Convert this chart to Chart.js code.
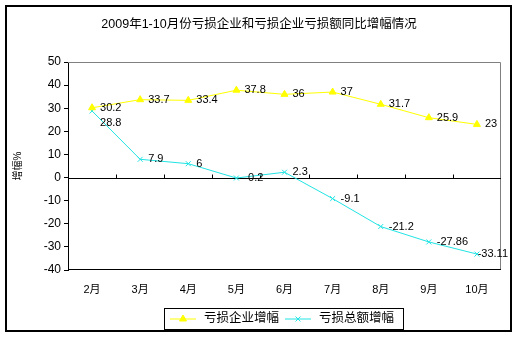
<!DOCTYPE html>
<html>
<head>
<meta charset="utf-8">
<script src="https://cdn.jsdelivr.net/npm/chart.js@4"></script>
<style>
  html, body { margin: 0; padding: 0; background: #fff; }
  canvas { display: block; }
</style>
</head>
<body>
<canvas id="chart" width="522" height="339"></canvas>
<script>
// 数据
const chartTitle = "2009年1-10月份亏损企业和亏损企业亏损额同比增幅情况";
const months = ["2月", "3月", "4月", "5月", "6月", "7月", "8月", "9月", "10月"];
const lossFirmGrowth = [30.2, 33.7, 33.4, 37.8, 36, 37, 31.7, 25.9, 23];
const lossAmountGrowth = [28.8, 7.9, 6, -0.2, 2.3, -9.1, -21.2, -27.86, -33.11];
const seriesNames = ["亏损企业增幅", "亏损总额增幅"];
const yMin = -40, yMax = 50, yStep = 10;
const yTitle = "增幅%";

const FONT = "'Liberation Sans', Arial, 'Noto Sans CJK SC', sans-serif";
const YELLOW = "#FFFF00";
const CYAN = "#22E4E4";

Chart.defaults.font.family = FONT;
Chart.defaults.color = "#000";

// 外框、标题、图例
const framePlugin = {
  id: "frame",
  beforeDraw(chart) {
    const ctx = chart.ctx;
    ctx.save();
    ctx.fillStyle = "#fff";
    ctx.fillRect(0, 0, chart.width, chart.height);
    ctx.strokeStyle = "#000";
    ctx.lineWidth = 2;
    ctx.strokeRect(6, 6, 505, 325);
    ctx.restore();
  },
  beforeDatasetsDraw(chart) {
    const { ctx, chartArea: a, scales } = chart;
    const x = scales.x, y = scales.y;
    ctx.save();
    // 绘图区边框
    ctx.lineWidth = 1;
    ctx.strokeStyle = "#808080";
    ctx.beginPath();
    ctx.moveTo(a.left, a.top + 0.5);
    ctx.lineTo(a.right - 0.5, a.top + 0.5);
    ctx.lineTo(a.right - 0.5, a.bottom);
    ctx.stroke();
    ctx.strokeStyle = "#000";
    ctx.beginPath();
    ctx.moveTo(a.left, a.bottom - 0.5);
    ctx.lineTo(a.right, a.bottom - 0.5);
    ctx.stroke();
    // 零线 + 刻度
    const y0 = Math.round(y.getPixelForValue(0)) + 0.5;
    ctx.beginPath();
    ctx.moveTo(a.left, y0);
    ctx.lineTo(a.right, y0);
    const half = (x.getPixelForValue(1) - x.getPixelForValue(0)) / 2;
    for (let i = 0; i < months.length - 1; i++) {
      const tx = Math.round(x.getPixelForValue(i) + half) + 0.5;
      ctx.moveTo(tx, y0);
      ctx.lineTo(tx, y0 - 4);
    }
    ctx.stroke();
    ctx.restore();
  },
  afterDatasetsDraw(chart) {
    const { ctx, chartArea: a } = chart;
    ctx.save();
    ctx.font = "11px " + FONT;
    ctx.fillStyle = "#000";
    ctx.textBaseline = "middle";
    ctx.textAlign = "left";
    const m0 = chart.getDatasetMeta(0).data;
    chart.data.datasets.forEach((ds, di) => {
      const pts = chart.getDatasetMeta(di).data;
      pts.forEach((p, i) => {
        const txt = String(ds.data[i]);
        const w = ctx.measureText(txt).width;
        let tx = p.x + 8;
        if (tx + w > a.right + 7) tx = a.right + 7 - w;
        let ty = p.y;
        if (di === 1 && Math.abs(p.y - m0[i].y) < 12) ty = p.y + 12;
        ctx.fillText(txt, tx, ty);
      });
    });
    ctx.restore();
  },
  afterDraw(chart) {
    const ctx = chart.ctx;
    ctx.save();
    // 标题
    ctx.fillStyle = "#000";
    ctx.font = "12.5px " + FONT;
    ctx.textAlign = "center";
    ctx.textBaseline = "middle";
    ctx.fillText(chartTitle, 259, 25);
    // 图例
    ctx.font = "12.5px " + FONT;
    ctx.textAlign = "left";
    const boxL = 164, boxT = 308, boxR = 403, boxB = 329;
    ctx.strokeStyle = "#000";
    ctx.lineWidth = 1;
    ctx.strokeRect(boxL + 0.5, boxT + 0.5, boxR - boxL, boxB - boxT);
    const cy = (boxT + boxB) / 2 + 0.5;
    let cx = boxL + 6;
    chart.data.datasets.forEach((ds) => {
      ctx.strokeStyle = ds.borderColor;
      ctx.fillStyle = ds.pointBackgroundColor;
      ctx.lineWidth = 1;
      ctx.beginPath();
      ctx.moveTo(cx, cy);
      ctx.lineTo(cx + 26, cy);
      ctx.stroke();
      Chart.helpers.drawPoint(ctx, {
        pointStyle: ds.pointStyle, radius: ds.pointRadius, rotation: 0, borderWidth: 1
      }, cx + 13, cy);
      ctx.fillStyle = "#000";
      ctx.fillText(ds.label, cx + 34, cy);
      cx += 34 + ctx.measureText(ds.label).width + 6;
    });
    ctx.restore();
  }
};

new Chart(document.getElementById("chart"), {
  type: "line",
  data: {
    labels: months,
    datasets: [
      {
        label: seriesNames[0],
        data: lossFirmGrowth,
        borderColor: YELLOW,
        backgroundColor: YELLOW,
        pointBackgroundColor: YELLOW,
        pointBorderColor: YELLOW,
        pointStyle: "triangle",
        pointRadius: 4,
        borderWidth: 1,
        tension: 0,
      },
      {
        label: seriesNames[1],
        data: lossAmountGrowth,
        borderColor: CYAN,
        backgroundColor: CYAN,
        pointBackgroundColor: CYAN,
        pointBorderColor: CYAN,
        pointStyle: "crossRot",
        pointRadius: 3.5,
        borderWidth: 1,
        tension: 0,
      },
    ],
  },
  options: {
    responsive: false,
    animation: false,
    layout: { padding: { left: 0, top: 62, right: 21, bottom: 39 } },
    plugins: {
      legend: { display: false },
      title: { display: false },
      tooltip: { enabled: false },
    },
    scales: {
      x: {
        offset: true,
        grid: { display: false },
        border: { display: false },
        ticks: { font: { size: 11 }, padding: 5, maxRotation: 0 },
        afterFit: (s) => { s.height = 30; },
      },
      y: {
        min: yMin,
        max: yMax,
        ticks: { stepSize: yStep, font: { size: 12 }, padding: 3 },
        grid: { drawOnChartArea: false, tickLength: 4, color: "#000" },
        border: { color: "#000" },
        title: { display: true, text: yTitle, font: { size: 10 }, padding: { top: 12, bottom: 0 } },
        afterFit: (s) => { s.width = 68; },
      },
    },
  },
  plugins: [framePlugin],
});
</script>
</body>
</html>
